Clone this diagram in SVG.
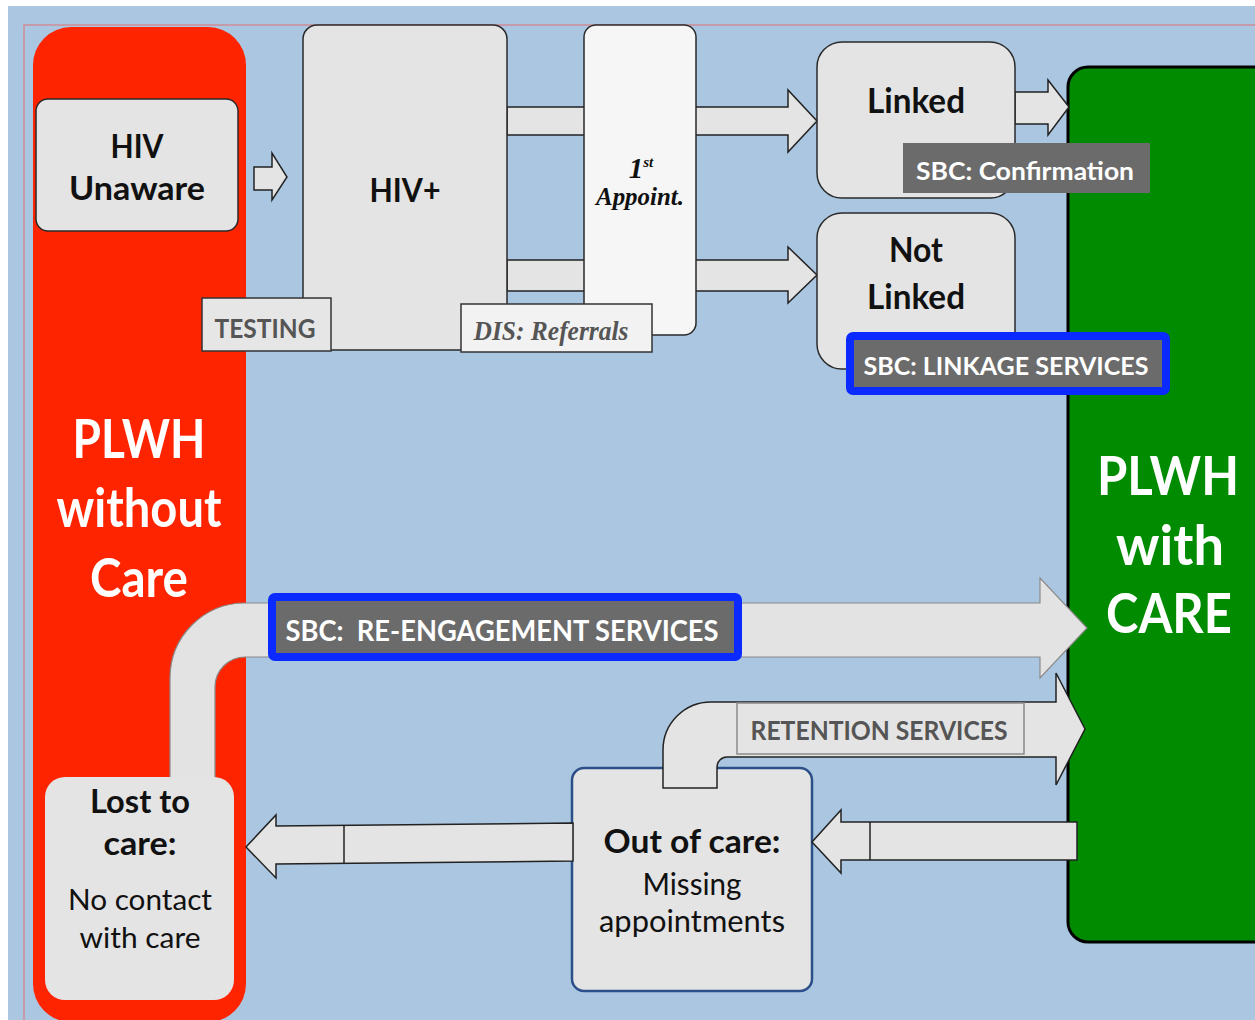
<svg xmlns="http://www.w3.org/2000/svg" width="1255" height="1020" viewBox="0 0 1255 1020">
<style>
.box{fill:#e4e4e4;stroke:#2a2a2a;stroke-width:1.5}
.arrow{fill:#e4e4e4;stroke:#222;stroke-width:1.5;stroke-linejoin:miter}
.pipe{fill:#e3e3e3;stroke:#8a8a8a;stroke-width:1.2}
.t{font-family:Lato,"Liberation Sans",sans-serif;text-anchor:middle}
.b{font-weight:bold}
.blk{fill:#111}
.wh{fill:#fff}
.gr{fill:#555}
.dark{fill:#6b6b6b}
.blue{fill:#6b6b6b;stroke:#0a2aff;stroke-width:8}
.serif{font-family:"Liberation Serif","Times New Roman",serif;font-style:italic;font-weight:bold;text-anchor:middle}
</style>
<rect x="0" y="0" width="1255" height="1020" fill="#ffffff"/>
<rect x="8" y="6" width="1247" height="1014" fill="#abc6e0"/>
<path d="M24,1020 L24,25 L1255,25" fill="none" stroke="#cf8d97" stroke-width="1.5"/>

<g id="plwh-without-care">
<rect x="33" y="27" width="213" height="995" rx="38" fill="#fe2400"/>
<text class="t b wh" font-size="53" x="139" y="458" textLength="133" lengthAdjust="spacingAndGlyphs">PLWH</text>
<text class="t b wh" font-size="53" x="139" y="527" textLength="165" lengthAdjust="spacingAndGlyphs">without</text>
<text class="t b wh" font-size="53" x="139" y="597" textLength="98" lengthAdjust="spacingAndGlyphs">Care</text>
</g>

<g id="plwh-with-care">
<rect x="1068" y="67" width="230" height="875" rx="20" fill="#008b00" stroke="#000" stroke-width="3"/>
<text class="t b wh" font-size="54" x="1168" y="495" textLength="142" lengthAdjust="spacingAndGlyphs">PLWH</text>
<text class="t b wh" font-size="56" x="1170" y="565" textLength="108" lengthAdjust="spacingAndGlyphs">with</text>
<text class="t b wh" font-size="56" x="1169" y="633" textLength="126" lengthAdjust="spacingAndGlyphs">CARE</text>
</g>

<g id="out-of-care">
<rect x="572" y="768" width="240" height="223" rx="12" fill="#e4e4e4" stroke="#2b4f88" stroke-width="2.5"/>
<text class="t b blk" font-size="32" x="692" y="853" textLength="177" lengthAdjust="spacingAndGlyphs">Out of care:</text>
<text class="t blk" font-size="31" x="692" y="895" textLength="99" lengthAdjust="spacingAndGlyphs">Missing</text>
<text class="t blk" font-size="31" x="692" y="932" textLength="186" lengthAdjust="spacingAndGlyphs">appointments</text>
</g>

<g id="connectors">
<path class="arrow" d="M254,167 L272,167 L272,153 L287,177 L272,200 L272,190 L254,190 Z"/>
<path class="arrow" d="M507,107 L788,107 L788,90 L817,121 L788,152 L788,135 L507,135 Z"/>
<path class="arrow" d="M507,260 L788,260 L788,247 L817,275 L788,303 L788,291 L507,291 Z"/>
<path class="arrow" d="M1015,92 L1048,92 L1048,80 L1069,107 L1048,135 L1048,124 L1015,124 Z"/>
<path class="pipe" d="M170,778 L170,678 A75,75 0 0 1 245,603 L1040,603 L1040,578 L1087,628 L1040,678 L1040,657 L245,657 A30,30 0 0 0 215,687 L215,778 Z"/>
<path class="arrow" d="M663,788 L663,750 A48,48 0 0 1 711,702 L1056,702 L1056,673 L1085,729 L1056,785 L1056,757 L727,757 A10,10 0 0 0 717,767 L717,788 Z"/>
<path class="arrow" d="M1077,822 L841,822 L841,810 L812,842 L841,873 L841,860 L1077,860 Z"/>
<line x1="870" y1="822" x2="870" y2="860" stroke="#222" stroke-width="1.5"/>
<path class="arrow" d="M573,823 L276,826 L276,815 L246,847 L276,878 L276,864 L573,861 Z"/>
<line x1="344" y1="825" x2="344" y2="863" stroke="#222" stroke-width="1.5"/>
</g>

<g id="hiv-unaware">
<rect class="box" x="36" y="99" width="202" height="132" rx="12"/>
<text class="t b blk" font-size="32" x="137" y="158" textLength="53" lengthAdjust="spacingAndGlyphs">HIV</text>
<text class="t b blk" font-size="32" x="137" y="200" textLength="136" lengthAdjust="spacingAndGlyphs">Unaware</text>
</g>

<g id="hiv-positive">
<rect class="box" x="303" y="25" width="204" height="325" rx="14" fill="#e6e6e6"/>
<text class="t b blk" font-size="32" x="405" y="202" textLength="71" lengthAdjust="spacingAndGlyphs">HIV+</text>
</g>

<g id="first-appointment">
<rect x="584" y="25" width="112" height="310" rx="12" fill="#f6f6f6" stroke="#2a2a2a" stroke-width="1.5"/>
<text class="serif blk" font-size="29" x="641" y="178">1<tspan font-size="15" dy="-11">st</tspan></text>
<text class="serif blk" font-size="26" x="640" y="205" textLength="88" lengthAdjust="spacingAndGlyphs">Appoint.</text>
</g>

<g id="testing">
<rect x="202" y="298" width="129" height="53" fill="#e6e6e6" stroke="#333" stroke-width="1.5"/>
<text class="t b gr" font-size="27" x="265" y="338" textLength="101" lengthAdjust="spacingAndGlyphs">TESTING</text>
</g>

<g id="dis-referrals">
<rect x="461" y="304" width="191" height="48" fill="#f2f2f2" stroke="#333" stroke-width="1.5"/>
<text class="serif gr" font-size="27" x="551" y="340" textLength="155" lengthAdjust="spacingAndGlyphs">DIS: Referrals</text>
</g>

<g id="linked">
<rect class="box" x="817" y="42" width="198" height="156" rx="25"/>
<text class="t b blk" font-size="34" x="916" y="113" textLength="98" lengthAdjust="spacingAndGlyphs">Linked</text>
</g>

<g id="not-linked">
<rect class="box" x="817" y="213" width="198" height="156" rx="25"/>
<text class="t b blk" font-size="34" x="916" y="262" textLength="54" lengthAdjust="spacingAndGlyphs">Not</text>
<text class="t b blk" font-size="34" x="916" y="309" textLength="98" lengthAdjust="spacingAndGlyphs">Linked</text>
</g>

<g id="sbc-confirmation">
<rect class="dark" x="903" y="143" width="247" height="50"/>
<text class="t b wh" font-size="24" x="1025" y="180" textLength="218" lengthAdjust="spacingAndGlyphs">SBC: Confirmation</text>
</g>

<g id="sbc-linkage">
<rect class="blue" x="850" y="336" width="316" height="55" rx="3"/>
<text class="t b wh" font-size="25" x="1006" y="375" textLength="285" lengthAdjust="spacingAndGlyphs">SBC: LINKAGE SERVICES</text>
</g>

<g id="lost-to-care">
<rect x="45" y="777" width="189" height="223" rx="20" fill="#e4e4e4"/>
<text class="t b blk" font-size="32" x="140" y="813" textLength="100" lengthAdjust="spacingAndGlyphs">Lost to</text>
<text class="t b blk" font-size="32" x="140" y="855" textLength="73" lengthAdjust="spacingAndGlyphs">care:</text>
<text class="t blk" font-size="29" x="140" y="910" textLength="144" lengthAdjust="spacingAndGlyphs">No contact</text>
<text class="t blk" font-size="29" x="140" y="948" textLength="121" lengthAdjust="spacingAndGlyphs">with care</text>
</g>

<g id="sbc-reengagement">
<rect class="blue" x="272" y="597" width="466" height="60" rx="3"/>
<text class="t b wh" font-size="28" x="502" y="641" textLength="433" lengthAdjust="spacingAndGlyphs" xml:space="preserve">SBC:  RE-ENGAGEMENT SERVICES</text>
</g>

<g id="retention-services">
<rect x="737" y="703" width="287" height="51" fill="#e4e4e4" stroke="#8a8a8a" stroke-width="1.5"/>
<text class="t b gr" font-size="27" x="879" y="740" textLength="257" lengthAdjust="spacingAndGlyphs">RETENTION SERVICES</text>
</g>
</svg>
